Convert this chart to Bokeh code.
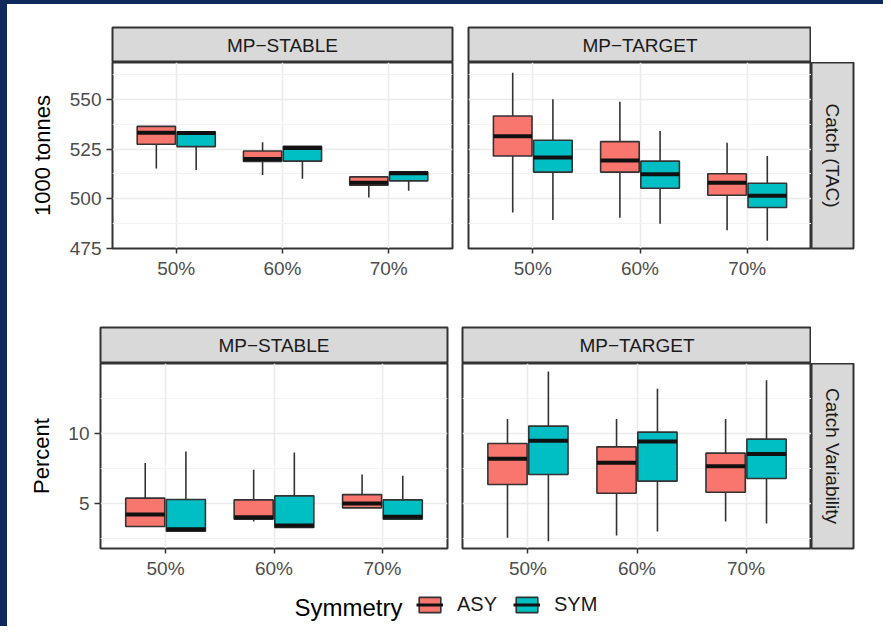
import math
from bokeh.plotting import figure
from bokeh.models import (ColumnDataSource, FactorRange, Range1d, FixedTicker,
                          Legend, LegendItem, Label, Spacer)
from bokeh.layouts import row, column
from bokeh.transform import dodge
from bokeh.embed import file_html
from bokeh.resources import INLINE
from bokeh.core.properties import value

# ---------------- data ----------------
pct = ["50%", "60%", "70%"]
facet_cols = ["MP\u2212STABLE", "MP\u2212TARGET"]
facet_rows = ["Catch (TAC)", "Catch Variability"]
groups = ["ASY", "SYM"]
group_colors = ["#F8766D", "#00BFC4"]

# Catch (TAC), 1000 tonnes  (lower whisker, Q1, median, Q3, upper whisker)
tac_stable_asy = dict(lo=[515.2, 512.0, 500.6], q1=[527.4, 518.7, 506.8],
                      med=[533.2, 520.0, 508.1], q3=[536.4, 524.0, 511.0],
                      hi=[536.4, 528.4, 511.0])
tac_stable_sym = dict(lo=[514.4, 510.1, 504.0], q1=[526.2, 518.9, 509.0],
                      med=[533.0, 525.5, 512.8], q3=[533.7, 526.4, 513.5],
                      hi=[533.7, 526.4, 513.5])
tac_target_asy = dict(lo=[493.1, 490.4, 484.2], q1=[521.5, 513.4, 501.8],
                      med=[531.4, 519.2, 508.0], q3=[541.6, 528.7, 512.6],
                      hi=[563.4, 548.8, 528.2])
tac_target_sym = dict(lo=[489.3, 487.5, 478.9], q1=[513.4, 505.3, 495.6],
                      med=[520.7, 512.3, 501.5], q3=[529.4, 518.9, 507.8],
                      hi=[550.0, 534.1, 521.5])

# Catch Variability, percent
var_stable_asy = dict(lo=[3.36, 3.71, 4.69], q1=[3.36, 3.89, 4.69],
                      med=[4.21, 4.03, 5.00], q3=[5.39, 5.26, 5.64],
                      hi=[7.89, 7.41, 7.07])
var_stable_sym = dict(lo=[3.03, 3.29, 3.89], q1=[3.03, 3.29, 3.89],
                      med=[3.17, 3.43, 4.05], q3=[5.29, 5.55, 5.26],
                      hi=[8.71, 8.64, 6.98])
var_target_asy = dict(lo=[2.55, 2.71, 3.71], q1=[6.36, 5.74, 5.81],
                      med=[8.19, 7.91, 7.67], q3=[9.29, 9.05, 8.60],
                      hi=[11.03, 11.03, 11.03])
var_target_sym = dict(lo=[2.31, 3.00, 3.57], q1=[7.07, 6.60, 6.79],
                      med=[9.48, 9.43, 8.53], q3=[10.53, 10.10, 9.60],
                      hi=[14.43, 13.19, 13.81])

tac_ticks = [475, 500, 525, 550]
tac_minor = [487.5, 512.5, 537.5, 562.5]
var_ticks = [5, 10]
var_minor = [2.5, 7.5, 12.5]

# ---------------- style ----------------
FONT = "Liberation Sans"
DODGE = 0.1875
BOXW = 0.36
BORDER = "#333333"
STRIP_FILL = "#D9D9D9"
SLIDE_BLUE = "#0E2A5C"


def make_panel(series_a, series_s, yr, ticks, minor, w, h, left, right, bottom,
               ylabel=None, label_standoff=12):
    p = figure(width=w, height=h,
               x_range=FactorRange(factors=pct, range_padding=0.2 / 3,
                                   range_padding_units="percent"),
               y_range=Range1d(*yr), output_backend="svg",
               toolbar_location=None, title=None,
               y_axis_location="left" if ylabel else None,
               min_border_left=left, min_border_right=right,
               min_border_top=0, min_border_bottom=bottom)
    p.background_fill_color = "white"
    p.border_fill_color = "white"
    p.outline_line_color = BORDER
    p.outline_line_width = 2
    p.outline_line_alpha = 1

    p.xgrid.grid_line_color = "#EBEBEB"
    p.xgrid.grid_line_width = 1.6
    p.ygrid.ticker = FixedTicker(ticks=ticks, minor_ticks=minor)
    p.ygrid.grid_line_color = "#EBEBEB"
    p.ygrid.grid_line_width = 1.6
    p.ygrid.minor_grid_line_color = "#F2F2F2"
    p.ygrid.minor_grid_line_width = 1.2

    ax = p.xaxis[0]
    ax.axis_line_color = None
    ax.major_tick_line_color = BORDER
    ax.major_tick_line_width = 1.5
    ax.major_tick_in = 0
    ax.major_tick_out = 5
    ax.minor_tick_line_color = None
    ax.major_label_standoff = 4
    ax.major_label_text_font = FONT
    ax.major_label_text_font_size = "19px"
    ax.major_label_text_color = "#4D4D4D"

    if ylabel:
        ay = p.yaxis[0]
        ay.ticker = FixedTicker(ticks=ticks, minor_ticks=minor)
        ay.axis_line_color = None
        ay.major_tick_line_color = BORDER
        ay.major_tick_line_width = 1.5
        ay.major_tick_in = 0
        ay.major_tick_out = 6
        ay.minor_tick_line_color = None
        ay.major_label_standoff = 5
        ay.major_label_text_font = FONT
        ay.major_label_text_font_size = "19px"
        ay.major_label_text_color = "#4D4D4D"
        ay.axis_label = ylabel
        ay.axis_label_text_font = FONT
        ay.axis_label_text_font_size = "22px"
        ay.axis_label_text_font_style = "normal"
        ay.axis_label_text_color = "black"
        ay.axis_label_standoff = label_standoff

    for ser, off, col in ((series_a, -DODGE, group_colors[0]),
                          (series_s, DODGE, group_colors[1])):
        src = ColumnDataSource(dict(pct=pct, lo=ser["lo"], q1=ser["q1"],
                                    med=ser["med"], q3=ser["q3"], hi=ser["hi"]))
        xc = dodge("pct", off, range=p.x_range)
        p.segment(x0=xc, y0="lo", x1=xc, y1="q1", source=src,
                  line_color=BORDER, line_width=1.6)
        p.segment(x0=xc, y0="q3", x1=xc, y1="hi", source=src,
                  line_color=BORDER, line_width=1.6)
        p.vbar(x=xc, width=BOXW, bottom="q1", top="q3", source=src,
               fill_color=col, line_color=BORDER, line_width=1.6)
        p.segment(x0=dodge("pct", off - BOXW / 2, range=p.x_range), y0="med",
                  x1=dodge("pct", off + BOXW / 2, range=p.x_range), y1="med",
                  source=src, line_color="#111111", line_width=4)
    return p


def make_strip(label, w, h, left, right, top, bottom, vertical=False):
    s = figure(width=w, height=h, x_range=Range1d(0, 1), y_range=Range1d(0, 1),
               output_backend="svg", toolbar_location=None, title=None,
               x_axis_location=None, y_axis_location=None,
               min_border_left=left, min_border_right=right,
               min_border_top=top, min_border_bottom=bottom)
    s.grid.visible = False
    s.background_fill_color = STRIP_FILL
    s.border_fill_color = "white"
    s.outline_line_color = BORDER
    s.outline_line_width = 2
    s.outline_line_alpha = 1
    s.text(x=[0.5], y=[0.5], text=[label],
           angle=-math.pi / 2 if vertical else 0,
           text_align="center", text_baseline="middle",
           text_font=value(FONT), text_font_size=value("19px"),
           text_color="#1A1A1A")
    return s


# ---------------- top row: Catch (TAC) ----------------
S1 = make_strip(facet_cols[0], 453, 58, 105, 8, 23, 0)
P1 = make_panel(tac_stable_asy, tac_stable_sym, (475, 568.5), tac_ticks, tac_minor,
                453, 246, 105, 8, 60, ylabel="1000 tonnes", label_standoff=12)
S2 = make_strip(facet_cols[1], 351, 58, 8, 0, 23, 0)
P2 = make_panel(tac_target_asy, tac_target_sym, (475, 568.5), tac_ticks, tac_minor,
                351, 246, 8, 0, 60)
R1 = make_strip(facet_rows[0], 72, 246, 0, 30, 0, 60, vertical=True)

top = row(column(S1, P1), column(S2, P2),
          column(Spacer(width=72, height=58), R1))

# ---------------- bottom row: Catch Variability ----------------
S3 = make_strip(facet_cols[0], 447, 55, 93, 7, 19, 0)
P3 = make_panel(var_stable_asy, var_stable_sym, (1.79, 15.0), var_ticks, var_minor,
                447, 220, 93, 7, 35, ylabel="Percent", label_standoff=11)
S4 = make_strip(facet_cols[1], 357, 55, 8, 0, 19, 0)
P4 = make_panel(var_target_asy, var_target_sym, (1.79, 15.0), var_ticks, var_minor,
                357, 220, 8, 0, 35)
R2 = make_strip(facet_rows[1], 72, 220, 0, 30, 0, 35, vertical=True)

bottom = row(column(S3, P3), column(S4, P4),
             column(Spacer(width=72, height=55), R2))

# ---------------- legend ----------------
L = figure(width=876, height=43, x_range=Range1d(0, 1), y_range=Range1d(0, 1),
           output_backend="svg", toolbar_location=None, title=None,
           x_axis_location=None, y_axis_location=None,
           min_border_left=0, min_border_right=0, min_border_top=0,
           min_border_bottom=0)
L.grid.visible = False
L.outline_line_color = None
L.background_fill_color = "white"
L.border_fill_color = "white"

items = []
for grp, col in zip(groups, group_colors):
    rb = L.vbar(x=[-5], width=0.1, bottom=[-5], top=[-4], fill_color=col,
                line_color=BORDER, line_width=1.6)
    rm = L.segment(x0=[-5], y0=[-5], x1=[-4], y1=[-5], line_color="#111111",
                   line_width=3)
    items.append(LegendItem(label=grp, renderers=[rb, rm]))

leg = Legend(items=items, orientation="horizontal", location=(409, 10),
             glyph_width=27, glyph_height=19, label_height=19,
             label_standoff=14, spacing=16, padding=0, margin=0,
             border_line_color=None, background_fill_alpha=0,
             label_text_font=FONT, label_text_font_size="20px",
             label_text_color="#1A1A1A", label_text_baseline="middle")
L.add_layout(leg)
L.add_layout(Label(x=395, y=19, x_units="screen", y_units="screen",
                   text="Symmetry", text_align="right", text_baseline="middle",
                   text_font=FONT, text_font_size="24px", text_color="black"))

content = column(Spacer(width=876, height=4, styles={"background-color": SLIDE_BLUE}),
                 top, bottom, L)
page = row(Spacer(width=7, height=626, styles={"background-color": SLIDE_BLUE}),
           content)

open("out.html", "w").write(file_html(page, INLINE))
